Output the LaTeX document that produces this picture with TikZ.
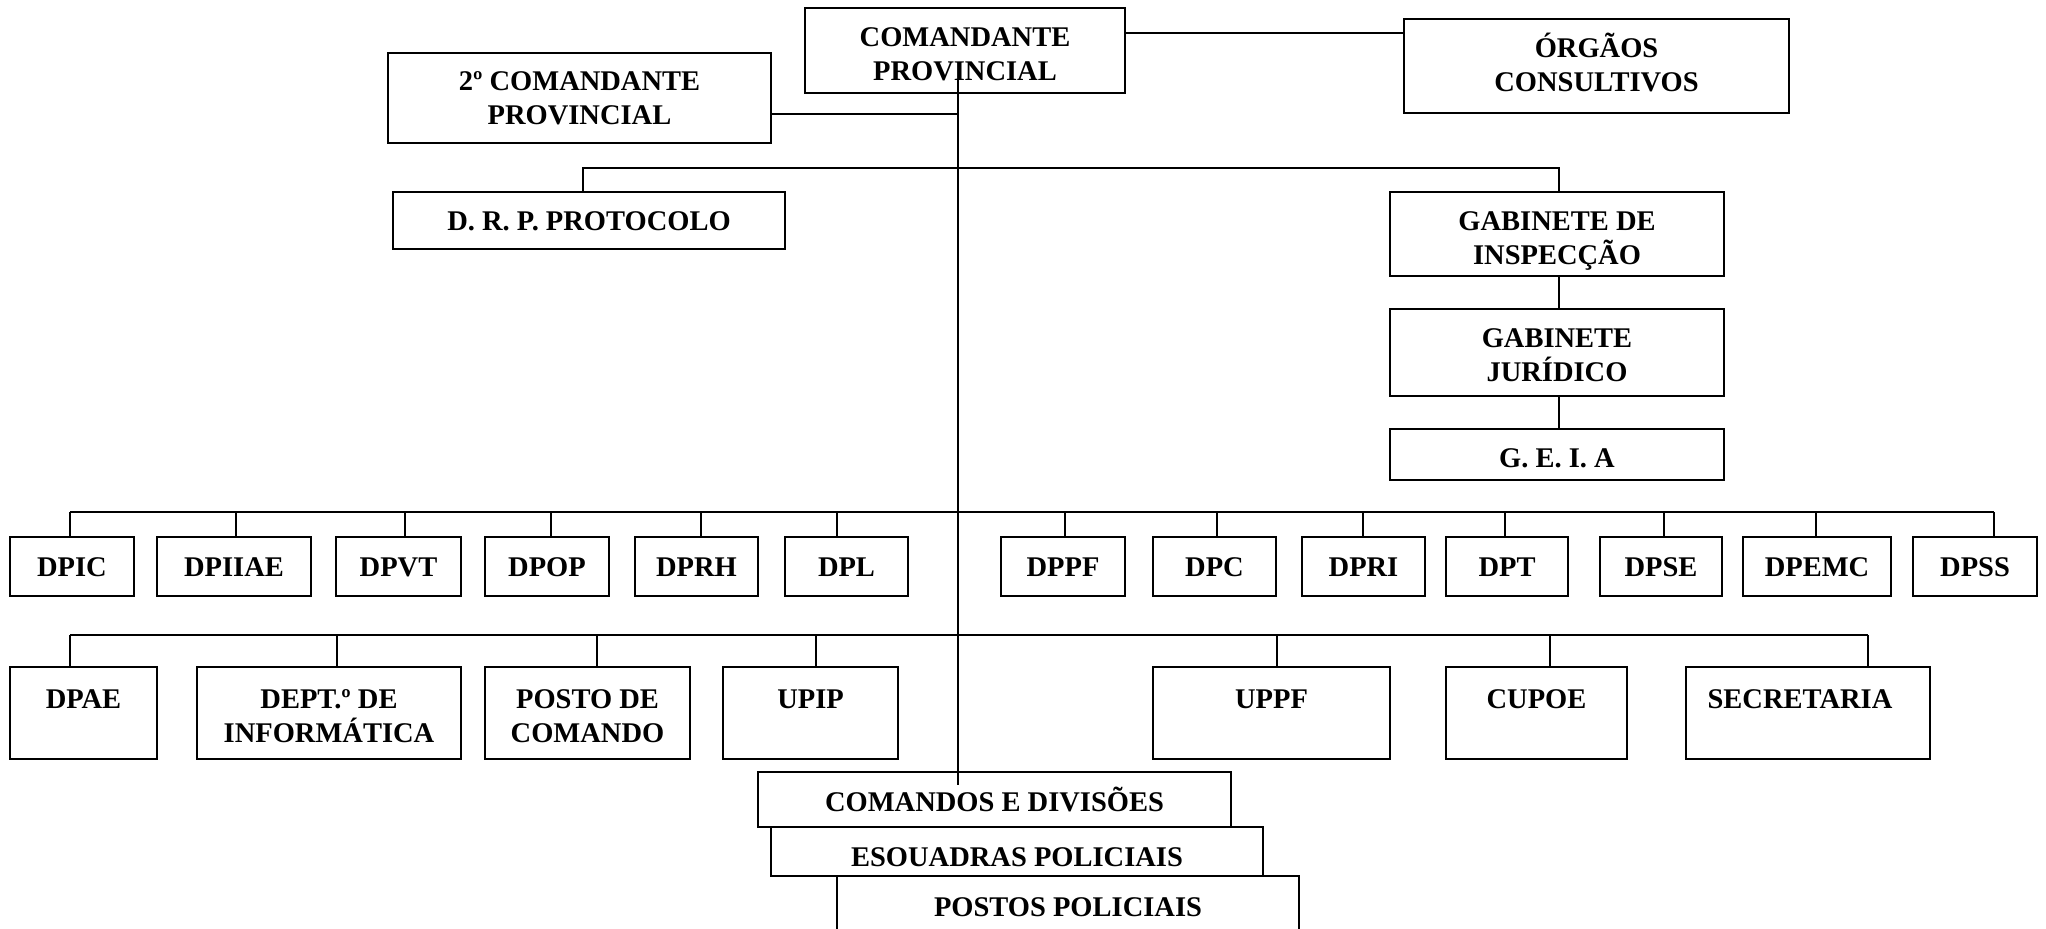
\documentclass[tikz,border=0pt]{standalone}
\usepackage{fontspec}
\setmainfont{Liberation Serif}
\begin{document}
\begin{tikzpicture}[x=1pt,y=-1pt,
  box/.style={draw, line width=2.4pt, inner sep=0pt},
  txt/.style={inner sep=0pt, align=center, font=\fontsize{28.5}{34}\selectfont\bfseries},
  toptext/.style={txt, anchor=north},
  link/.style={line width=2pt}]
\useasboundingbox (0,0) rectangle (2046,929);
% top
\node[box, minimum width=320, minimum height=85] (cp) at (965,50.5) {};
\node[txt] at ([yshift=-4pt]cp.center) {COMANDANTE\\PROVINCIAL};
\node[box, minimum width=385, minimum height=94] (org) at (1596.5,66) {};
\node[txt] at ([yshift=4pt]org.center) {ÓRGÃOS\\CONSULTIVOS};
\node[box, minimum width=383, minimum height=90] (cp2) at (579.5,98) {};
\node[txt] at (cp2.center) {2º COMANDANTE\\PROVINCIAL};
\node[box, minimum width=392, minimum height=57] (drp) at (589,220.5) {};
\node[txt] at ([yshift=-1pt]drp.center) {D. R. P. PROTOCOLO};
\node[box, minimum width=334, minimum height=84] (gi) at (1557,234) {};
\node[txt] at ([yshift=-7pt]gi.center) {GABINETE DE\\INSPECÇÃO};
\node[box, minimum width=334, minimum height=87] (gj) at (1557,352.5) {};
\node[txt] at ([yshift=-3pt]gj.center) {GABINETE\\JURÍDICO};
\node[box, minimum width=334, minimum height=51] (geia) at (1557,454.5) {};
\node[txt] at ([yshift=-4pt]geia.center) {G. E. I. A};
% row 1
\foreach \n/\cx/\w/\t in {dpic/72/124/DPIC, dpiiae/234/154/DPIIAE, dpvt/398.5/125/DPVT, dpop/547/124/DPOP,
  dprh/696.5/123/DPRH, dpl/846.5/123/DPL, dppf/1063/124/DPPF, dpc/1214.5/123/DPC, dpri/1363.5/123/DPRI,
  dpt/1507/122/DPT, dpse/1661/122/DPSE, dpemc/1817/148/DPEMC, dpss/1975/124/DPSS}
  {\node[box, minimum width=\w, minimum height=59] (\n) at (\cx,566.5) {};
   \node[txt] at ([yshift=-1pt]\n.center) {\t};}
% row 2
\foreach \n/\cx/\w in {dpae/83.5/147, dept/329/264, posto/587.5/205, upip/810.5/175,
  uppf/1271.5/237, cupoe/1536.5/181, secr/1808/244}
  \node[box, minimum width=\w, minimum height=92] (\n) at (\cx,713) {};
\node[toptext] at ([yshift=-24pt]dpae.north) {DPAE};
\node[toptext] at ([yshift=-24pt]dept.north) {DEPT.º DE\\INFORMÁTICA};
\node[toptext] at ([yshift=-24pt]posto.north) {POSTO DE\\COMANDO};
\node[toptext] at ([yshift=-24pt]upip.north) {UPIP};
\node[toptext] at ([yshift=-24pt]uppf.north) {UPPF};
\node[toptext] at ([yshift=-24pt]cupoe.north) {CUPOE};
\node[toptext] at ([xshift=-8pt,yshift=-24pt]secr.north) {SECRETARIA};
% bottom stack
\node[box, minimum width=462, minimum height=56] (pp) at (1068,904) {};
\node[txt] at ([yshift=-3pt]pp.center) {POSTOS POLICIAIS};
\node[box, minimum width=492, minimum height=49, fill=white] (eq) at (1017,851.5) {};
\node[txt] at ([yshift=-6pt]eq.center) {ESOUADRAS POLICIAIS};
\node[box, minimum width=473, minimum height=55, fill=white] (cd) at (994.5,799.5) {};
\node[txt] at (cd.center) {COMANDOS E DIVISÕES};
% connectors
\coordinate (spinetop) at (958,80);
\coordinate (spinebot) at (958,785);
\draw[link] (cp.east |- 0,33) -- (org.west |- 0,33);
\draw[link] (cp2.east |- 0,114) -- (spinetop |- 0,114);
\draw[link] (583,168 |- drp.north) -- (583,168) -- (1559,168) -- (1559,168 |- gi.north);
\draw[link] (1559,0 |- gi.south) -- (1559,0 |- gj.north);
\draw[link] (1559,0 |- gj.south) -- (1559,0 |- geia.north);
\draw[link] (70,512) -- (1994,512);
\foreach \n/\x in {dpic/70, dpiiae/236, dpvt/405, dpop/551, dprh/701, dpl/837, dppf/1065, dpc/1217,
  dpri/1363, dpt/1505, dpse/1664, dpemc/1816, dpss/1994}
  \draw[link] (\x,512) -- (\x,0 |- \n.north);
\draw[link] (70,635) -- (1868,635);
\foreach \n/\x in {dpae/70, dept/337, posto/597, upip/816, uppf/1277, cupoe/1550, secr/1868}
  \draw[link] (\x,635) -- (\x,0 |- \n.north);
\draw[link] (spinetop) -- (spinebot);
\end{tikzpicture}
\end{document}
